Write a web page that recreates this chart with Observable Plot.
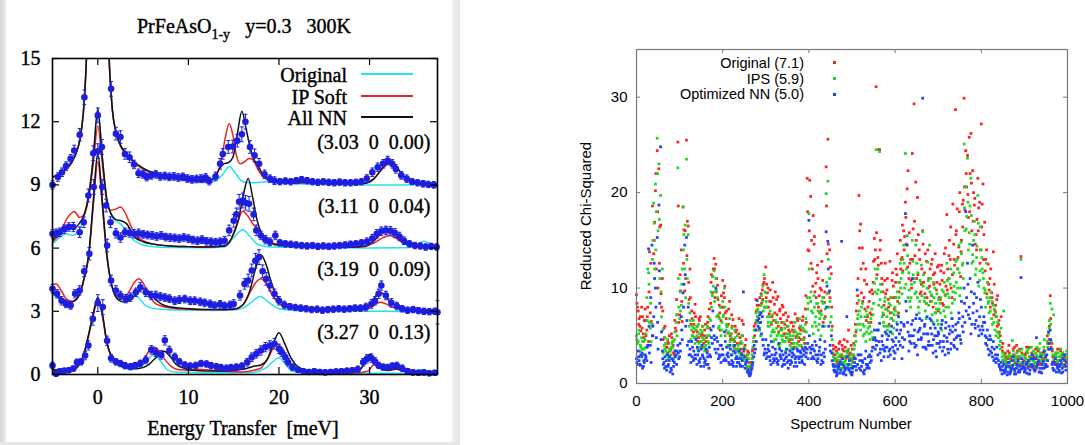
<!DOCTYPE html>
<html><head><meta charset="utf-8">
<script src="https://cdn.jsdelivr.net/npm/d3@7"></script>
<script src="https://cdn.jsdelivr.net/npm/@observablehq/plot@0.6"></script>
<style>
body{margin:0;background:#fff;}
#wrap{position:relative;width:1085px;height:445px;overflow:hidden;background:#fff;}
.abs{position:absolute;white-space:pre;line-height:1;}
.serif{font-family:"Liberation Serif","Times New Roman",serif;font-size:20px;color:#000;-webkit-text-stroke:0.4px #000;}
.sans{font-family:"Liberation Sans",Arial,sans-serif;font-size:15px;color:#000;}
#left svg text{stroke:#000;stroke-width:0.4px;}
.c{transform:translate(-50%,-50%);}
.r{transform:translate(-100%,-50%);}
</style></head><body>
<div id="wrap">
 <div class="abs" style="left:0;top:0;width:6px;height:445px;background:linear-gradient(to right,#d6d6d6,#eeeeee)"></div>
 <div class="abs" style="left:452px;top:0;width:8px;height:445px;background:linear-gradient(to right,#f2f2f2,#e4e4e4)"></div>
 <div class="abs" style="left:0;top:442px;width:460px;height:3px;background:#e6e6e6"></div>
 <div id="left" class="abs" style="left:0;top:0"></div>
 <div id="right" class="abs" style="left:560px;top:0"></div>
 <div class="abs serif" style="left:137px;top:16px">PrFeAsO<span style="font-size:14px;position:relative;top:6px">1-y</span>   y=0.3   300K</div>
 <div class="abs serif c" style="left:243px;top:428px">Energy Transfer  [meV]</div>
 <div class="abs serif r" style="left:347px;top:75px">Original</div>
 <div class="abs serif r" style="left:347px;top:97px">IP Soft</div>
 <div class="abs serif r" style="left:347px;top:118px">All NN</div>
 <div class="abs" style="left:361px;top:73px;width:52px;height:2px;background:#22e3ee"></div>
 <div class="abs" style="left:361px;top:95px;width:52px;height:2px;background:#ee2222"></div>
 <div class="abs" style="left:361px;top:116px;width:52px;height:1.6px;background:#111"></div>
 <div class="abs sans r" style="left:804px;top:63px;font-size:14.5px">Original (7.1)</div>
 <div class="abs sans r" style="left:804px;top:79px;font-size:14.5px">IPS (5.9)</div>
 <div class="abs sans r" style="left:804px;top:94px;font-size:14.5px">Optimized NN (5.0)</div>
 <div class="abs" style="left:833px;top:61px;width:3px;height:3px;background:#ff2020"></div>
 <div class="abs" style="left:833px;top:77px;width:3px;height:3px;background:#20d820"></div>
 <div class="abs" style="left:833px;top:93px;width:3px;height:3px;background:#2040ff"></div>
 <div class="abs sans c" style="left:851px;top:423px">Spectrum Number</div>
 <div class="abs sans" style="left:585px;top:216px;transform:translate(-50%,-50%) rotate(-90deg)">Reduced Chi-Squared</div>
</div>
<script>
// ---------------- LEFT PANEL DATA ----------------
const xTicksL = [0, 10, 20, 30];
const yTicksL = [0, 3, 6, 9, 12, 15];
const specBase = [9, 6, 3, 0];
const specLabels = ["(3.03  0  0.00)", "(3.11  0  0.04)", "(3.19  0  0.09)", "(3.27  0  0.13)"];

// measured points [E, I, err]
const data1 = [[-5,9.0,0.2],[-4.4,9.37,0.2],[-3.95,9.6,0.2],[-3.5,9.89,0.2],[-3.0,10.24,0.2],[-2.6,10.63,0.25],[-2.0,11.38,0.3],[-1.48,13.16,0.35],[1.47,13.56,0.35],[2.0,11.43,0.3],[2.5,11.27,0.3],[3.0,10.47,0.25],[3.5,10.31,0.25],[4.0,9.97,0.2],[4.5,9.55,0.2],[5.0,9.5,0.18],[5.4,9.37,0.18],[5.9,9.45,0.18],[6.4,9.5,0.18],[6.9,9.4,0.18],[7.4,9.42,0.18],[7.9,9.38,0.18],[8.4,9.4,0.18],[8.9,9.35,0.18],[9.4,9.38,0.18],[9.9,9.3,0.18],[10.4,9.26,0.18],[10.9,9.28,0.18],[11.4,9.3,0.18],[11.9,9.35,0.18],[12.3,9.18,0.18],[13.0,9.4,0.2],[13.5,10.0,0.25],[13.8,10.47,0.25],[14.4,10.8,0.3],[14.9,10.82,0.3],[15.4,11.1,0.3],[15.9,11.4,0.35],[16.3,12.0,0.35],[16.8,10.8,0.3],[17.3,10.4,0.3],[17.8,10.0,0.25],[18.4,9.5,0.2],[19,9.29,0.18],[19.5,9.2,0.18],[20.1,9.15,0.15],[20.7,9.18,0.15],[21.3,9.15,0.15],[21.9,9.2,0.15],[22.5,9.25,0.15],[23.1,9.2,0.15],[23.7,9.15,0.15],[24.3,9.12,0.15],[24.9,9.15,0.15],[25.5,9.12,0.15],[26.1,9.1,0.15],[26.7,9.13,0.15],[27.3,9.1,0.15],[27.9,9.1,0.15],[28.5,9.12,0.15],[29.1,9.15,0.15],[29.7,9.3,0.18],[30.3,9.6,0.2],[30.9,9.84,0.2],[31.5,10.0,0.2],[32.0,10.16,0.2],[32.5,10.0,0.2],[32.9,9.76,0.2],[33.5,9.45,0.18],[34.1,9.29,0.18],[34.7,9.15,0.15],[35.3,9.1,0.15],[35.9,9.05,0.15],[36.5,9.02,0.15],[37.1,9.0,0.15]];
const data2 = [[-5,6.68,0.2],[-4.6,6.7,0.2],[-4.2,6.75,0.2],[-3.7,6.9,0.2],[-3.2,7.0,0.2],[-2.7,7.0,0.22],[-2.0,6.75,0.25],[-1.55,7.23,0.25],[-1.04,8.5,0.3],[-0.5,10.5,0.35],[0,12.3,0.35],[0.45,10.8,0.35],[0.92,8.02,0.3],[1.4,7.23,0.25],[2.0,6.7,0.22],[2.5,6.5,0.22],[3.0,6.75,0.2],[3.5,6.72,0.2],[4.0,6.68,0.2],[4.5,6.7,0.2],[5.0,6.65,0.18],[5.5,6.62,0.18],[6.0,6.6,0.18],[6.5,6.55,0.18],[7.0,6.6,0.18],[7.5,6.52,0.18],[8.0,6.5,0.18],[8.5,6.48,0.18],[9.0,6.45,0.18],[9.5,6.5,0.18],[10.0,6.45,0.18],[10.5,6.38,0.18],[11.0,6.35,0.18],[11.5,6.4,0.18],[12.0,6.32,0.18],[12.5,6.3,0.18],[13.0,6.28,0.18],[13.5,6.3,0.18],[14.0,6.35,0.2],[14.5,6.84,0.25],[15.0,7.3,0.3],[15.3,7.6,0.3],[15.6,8.2,0.35],[16.0,8.26,0.35],[16.3,8.15,0.35],[16.7,8.1,0.35],[17.2,7.6,0.3],[17.5,6.84,0.25],[18.0,6.6,0.2],[18.5,6.4,0.2],[19.0,6.3,0.18],[19.6,6.6,0.2],[20.1,6.25,0.15],[20.7,6.2,0.15],[21.3,6.18,0.15],[21.9,6.15,0.15],[22.5,6.12,0.15],[23.1,6.1,0.15],[23.7,6.12,0.15],[24.3,6.08,0.15],[24.9,6.1,0.15],[25.5,6.08,0.15],[26.1,6.1,0.15],[26.7,6.12,0.15],[27.3,6.15,0.15],[27.9,6.18,0.15],[28.5,6.2,0.15],[29.1,6.25,0.15],[29.7,6.3,0.18],[30.3,6.45,0.2],[30.8,6.68,0.2],[31.3,6.8,0.2],[31.8,6.84,0.2],[32.3,6.82,0.2],[32.8,6.72,0.2],[33.3,6.55,0.2],[33.8,6.35,0.18],[34.4,6.2,0.15],[35.0,6.12,0.15],[35.6,6.1,0.15],[36.2,6.05,0.15],[36.8,6.08,0.15],[37.4,6.05,0.15]];
const data3 = [[-5,4.07,0.2],[-4.5,3.83,0.2],[-4.0,3.5,0.2],[-3.5,3.35,0.18],[-3.0,3.28,0.18],[-2.5,3.83,0.2],[-2.0,3.99,0.22],[-1.5,4.9,0.25],[-0.93,5.73,0.3],[-0.45,8.9,0.35],[0,10.6,0.35],[0.5,8.9,0.35],[1.03,6.12,0.3],[1.47,4.46,0.25],[2.0,3.99,0.22],[2.5,3.75,0.2],[3.1,3.6,0.2],[3.6,3.67,0.2],[4.2,3.9,0.2],[4.7,4.14,0.22],[5.3,3.9,0.2],[5.9,3.75,0.2],[6.4,3.75,0.2],[6.9,3.7,0.18],[7.4,3.65,0.18],[7.9,3.6,0.18],[8.5,3.5,0.18],[9.0,3.55,0.18],[9.6,3.58,0.18],[10.2,3.5,0.18],[10.7,3.5,0.18],[11.3,3.45,0.18],[11.8,3.4,0.18],[12.4,3.35,0.18],[12.9,3.27,0.18],[13.5,3.33,0.18],[14.0,3.25,0.18],[14.6,3.3,0.18],[15.0,3.35,0.2],[15.7,3.75,0.22],[16.2,4.3,0.25],[16.6,4.46,0.3],[17.0,4.94,0.3],[17.4,5.4,0.35],[17.8,5.57,0.35],[18.2,4.9,0.3],[18.6,4.54,0.3],[19.0,4.22,0.25],[19.5,3.83,0.22],[20.0,3.5,0.2],[20.6,3.3,0.18],[21.2,3.22,0.15],[21.8,3.18,0.15],[22.4,3.15,0.15],[23.0,3.12,0.15],[23.6,3.08,0.15],[24.2,3.1,0.15],[24.8,3.05,0.15],[25.4,3.08,0.15],[26.0,3.1,0.15],[26.6,3.12,0.15],[27.2,3.1,0.15],[27.8,3.12,0.15],[28.4,3.15,0.15],[29.0,3.15,0.15],[29.6,3.2,0.18],[30.2,3.35,0.2],[30.6,3.5,0.2],[31.0,3.83,0.22],[31.3,4.22,0.22],[31.8,3.75,0.2],[32.4,3.4,0.2],[33.0,3.25,0.18],[33.6,3.12,0.15],[34.2,3.05,0.15],[34.8,3.08,0.15],[35.4,3.03,0.15],[36.0,3.0,0.15],[36.6,2.98,0.15],[37.2,3.0,0.15],[37.5,2.95,0.55]];
const data4 = [[-5,0.43,0.15],[-4.6,0.03,0.12],[-4.2,0.15,0.12],[-3.7,0.18,0.12],[-3.2,0.2,0.12],[-2.7,0.28,0.12],[-2.3,0.58,0.15],[-1.85,0.6,0.15],[-1.4,0.9,0.2],[-1.04,1.38,0.22],[-0.55,2.64,0.3],[0,3.39,0.4],[0.55,3.2,0.35],[1.03,1.6,0.22],[1.47,0.77,0.18],[2.0,0.6,0.15],[2.5,0.52,0.15],[3.0,0.42,0.15],[3.6,0.37,0.15],[4.1,0.42,0.15],[4.7,0.53,0.15],[5.3,0.69,0.18],[5.9,1.17,0.2],[6.4,1.05,0.2],[7.0,0.93,0.2],[7.4,1.62,0.22],[7.9,1.14,0.2],[8.5,0.83,0.18],[9.0,0.6,0.15],[9.6,0.45,0.15],[10.2,0.4,0.15],[10.8,0.43,0.15],[11.4,0.52,0.15],[12.0,0.5,0.15],[12.5,0.42,0.15],[13.1,0.37,0.15],[13.6,0.33,0.15],[14.2,0.3,0.15],[14.7,0.33,0.15],[15.3,0.35,0.15],[15.9,0.4,0.15],[16.5,0.58,0.18],[17.0,0.82,0.2],[17.5,0.98,0.2],[18.0,1.14,0.22],[18.5,1.3,0.22],[19.0,1.38,0.22],[19.5,1.46,0.25],[20.0,1.22,0.22],[20.3,1.06,0.2],[20.7,0.82,0.2],[21.0,0.58,0.18],[21.5,0.35,0.15],[22.1,0.22,0.12],[22.7,0.15,0.12],[23.3,0.12,0.12],[23.9,0.15,0.12],[24.5,0.12,0.12],[25.1,0.1,0.12],[25.7,0.12,0.12],[26.3,0.14,0.12],[26.9,0.15,0.12],[27.5,0.18,0.12],[28.1,0.2,0.12],[28.7,0.25,0.15],[29.3,0.58,0.18],[29.7,0.74,0.2],[30.2,0.78,0.2],[30.6,0.62,0.18],[31.0,0.43,0.15],[31.5,0.35,0.15],[32.0,0.33,0.15],[32.5,0.4,0.15],[33.0,0.43,0.15],[33.6,0.3,0.15],[34.2,0.16,0.12],[34.8,0.1,0.12],[35.4,0.08,0.12],[36.0,0.1,0.12],[36.6,0.06,0.12],[37.2,0.08,0.12]];

// model curves [E, I]
const cyan1 = [[-5,9.35],[-4,9.6],[-3,10.0],[-2.5,10.4],[-2,11.1],[-1.6,12.4],[-1.3,14.5],[-1,18],[-0.5,25],[0,30],[0.5,25],[1,18],[1.3,14.5],[1.6,12.6],[2,11.5],[2.5,10.85],[3,10.5],[4,10.05],[5,9.75],[6,9.55],[8,9.32],[10,9.18],[12,9.1],[13,9.2],[13.8,9.5],[14.5,9.87],[15.2,9.55],[16,9.15],[17,9.1],[18.5,9.15],[19.5,9.2],[20.5,9.12],[22,9.05],[26,9.02],[30,9.0],[34,9.0],[35.3,9.08],[36,9.2],[36.7,9.1],[37.5,9.0]];
const red1 = [[-5,9.35],[-4,9.58],[-3,9.98],[-2.5,10.4],[-2,11.1],[-1.6,12.4],[-1.3,14.5],[-1,18],[-0.5,25],[0,30],[0.5,25],[1,18],[1.3,14.5],[1.6,12.6],[2,11.5],[2.5,10.85],[3,10.5],[4,10.05],[5,9.75],[6,9.55],[8,9.35],[10,9.22],[12,9.15],[13,9.4],[13.6,10.1],[14.1,11.3],[14.5,11.9],[14.9,11.4],[15.3,10.4],[15.7,10.0],[16.2,10.1],[16.7,10.25],[17.1,10.2],[17.6,9.8],[18.2,9.4],[19,9.2],[20,9.12],[24,9.08],[28,9.05],[29.5,9.08],[30.5,9.3],[31.5,9.8],[32.3,10.05],[33,9.8],[33.8,9.4],[34.6,9.15],[35.5,9.08],[36.5,9.1],[37.5,9.02]];
const black1 = [[-5,9.37],[-4,9.6],[-3,10.0],[-2.5,10.4],[-2,11.1],[-1.6,12.4],[-1.3,14.5],[-1.0,18],[-0.5,25],[0,30],[0.5,25],[1.0,18],[1.3,14.5],[1.6,12.6],[2,11.5],[2.5,10.9],[3,10.55],[4,10.1],[5,9.8],[6,9.6],[8,9.38],[10,9.25],[12,9.18],[12.8,9.3],[13.4,9.75],[13.9,10.0],[14.4,10.05],[14.9,10.3],[15.4,11.4],[15.9,12.5],[16.4,11.6],[16.8,10.8],[17.2,10.25],[17.6,9.95],[18.2,9.5],[19,9.25],[20,9.13],[22,9.1],[23,9.15],[24,9.1],[26,9.07],[28,9.05],[29.5,9.08],[30.5,9.3],[31.5,9.85],[32.3,10.15],[33,9.85],[33.8,9.4],[34.6,9.15],[35.5,9.08],[36.5,9.1],[37.5,9.02]];
const cyan2 = [[-5,6.2],[-4.2,6.5],[-3.5,6.68],[-2.8,6.6],[-2,6.9],[-1.5,7.5],[-1,8.5],[-0.5,10.3],[0,12.6],[0.5,10.3],[1,8.3],[1.5,7.55],[2,7.3],[2.5,7.15],[3.2,6.8],[4,6.36],[5,6.15],[6,6.08],[8,6.03],[12,6.02],[14,6.05],[15,6.5],[16,6.87],[16.8,6.55],[17.6,6.2],[18.5,6.08],[20,6.04],[25,6.02],[30,6.01],[34,6.02],[35.3,6.15],[36,6.33],[36.7,6.2],[37.5,6.08]];
const red2 = [[-5,6.28],[-4.2,6.7],[-3.4,7.4],[-2.6,7.74],[-2,7.45],[-1.5,7.6],[-1,8.4],[-0.5,10.0],[0,11.8],[0.5,10.0],[1,8.2],[1.4,7.8],[2,7.85],[2.5,7.95],[3,7.7],[3.6,7.1],[4.2,6.6],[5,6.35],[6,6.2],[8,6.1],[10,6.07],[12,6.05],[14,6.1],[14.8,6.5],[15.4,7.2],[16,7.75],[16.6,7.5],[17.2,7.1],[17.7,6.9],[18.3,6.5],[19,6.25],[20,6.12],[24,6.06],[28,6.04],[29.5,6.08],[30.5,6.25],[31.5,6.5],[32.2,6.6],[33,6.45],[34,6.2],[35,6.1],[36.5,6.06],[37.5,6.02]];
const black2 = [[-5,6.36],[-4.3,6.8],[-3.5,7.0],[-3,7.07],[-2.5,7.0],[-2,7.2],[-1.5,7.6],[-1,8.5],[-0.5,10.3],[0,12.6],[0.5,10.3],[1,8.3],[1.5,7.6],[2,7.35],[2.6,7.3],[3.2,7.15],[4,6.55],[5,6.3],[6,6.2],[8,6.1],[10,6.07],[12,6.05],[14,6.1],[14.8,6.5],[15.5,7.3],[16.1,8.6],[16.6,9.3],[17.1,8.4],[17.6,7.3],[18.2,6.6],[19,6.3],[20,6.15],[24,6.07],[28,6.05],[29.5,6.1],[30.5,6.35],[31.5,6.8],[32,6.9],[32.7,6.7],[33.5,6.35],[34.5,6.12],[36,6.08],[37.5,6.02]];
const cyan3 = [[-5,3.83],[-4.3,3.6],[-3.5,3.43],[-2.8,3.45],[-2,3.8],[-1.5,4.6],[-1,5.7],[-0.5,8.2],[0,10.5],[0.5,8.2],[1,5.7],[1.5,4.3],[2,3.7],[2.6,3.55],[3.3,3.65],[4,3.83],[4.6,3.6],[5.2,3.3],[6,3.15],[7,3.1],[9,3.06],[13,3.04],[15,3.06],[16,3.15],[17,3.45],[17.9,3.7],[18.8,3.45],[19.6,3.2],[20.5,3.08],[22,3.04],[28,3.02],[32,3.0],[35,2.98],[35.8,3.05],[36.4,3.08],[37,3.0],[37.5,2.96]];
const red3 = [[-5,4.28],[-4.6,4.3],[-4,3.95],[-3.4,3.55],[-2.8,3.48],[-2,3.8],[-1.5,4.55],[-1,5.6],[-0.5,8.0],[0,10.1],[0.5,8.0],[1,5.6],[1.5,4.3],[2,3.8],[2.7,3.6],[3.4,3.9],[4,4.35],[4.5,4.54],[5,4.35],[5.6,3.8],[6.2,3.43],[7,3.25],[8,3.16],[10,3.1],[13,3.07],[15,3.1],[16,3.3],[16.8,3.9],[17.5,4.4],[18,4.54],[18.6,4.3],[19.2,3.8],[19.8,3.45],[20.5,3.25],[22,3.12],[26,3.07],[29,3.06],[30,3.15],[30.7,3.35],[31.2,3.43],[31.8,3.35],[32.5,3.2],[33.5,3.1],[35,3.06],[37.5,3.0]];
const black3 = [[-5,3.9],[-4,3.6],[-3,3.43],[-2.4,3.55],[-2,3.83],[-1.5,4.6],[-1,5.7],[-0.5,8.2],[0,10.5],[0.5,8.2],[1,5.7],[1.5,4.3],[2,3.67],[2.5,3.48],[3,3.43],[3.6,3.55],[4.3,3.85],[5,4.07],[5.6,3.95],[6.3,3.6],[7,3.35],[8,3.2],[9,3.16],[11,3.1],[13,3.08],[15,3.1],[16,3.3],[16.8,4.0],[17.4,5.0],[18,5.68],[18.6,5.2],[19.2,4.3],[19.8,3.7],[20.5,3.35],[21.5,3.18],[24,3.1],[28,3.07],[29.5,3.12],[30.3,3.45],[30.8,3.8],[31.2,3.9],[31.7,3.75],[32.3,3.45],[33,3.25],[34,3.12],[35,3.08],[36.5,3.04],[37.5,3.0]];
const cyan4 = [[-5,0.15],[-3,0.15],[-2.2,0.35],[-1.6,0.85],[-1,1.9],[-0.5,2.85],[0,3.6],[0.5,2.85],[1,1.5],[1.5,0.85],[2.5,0.4],[3.5,0.25],[4.5,0.3],[5.3,0.6],[6.2,0.95],[7,0.6],[7.7,0.22],[8.5,0.12],[10,0.1],[14,0.08],[17,0.1],[18.5,0.3],[19.3,0.6],[20,0.79],[20.7,0.5],[21.5,0.15],[23,0.08],[30,0.06],[34,0.06],[35,0.15],[35.6,0.22],[36.3,0.15],[37.5,0.08]];
const red4 = [[-5,0.2],[-3,0.2],[-2.2,0.38],[-1.6,0.85],[-1,1.85],[-0.5,2.8],[0,3.55],[0.5,2.8],[1,1.5],[1.5,0.85],[2.5,0.45],[3.5,0.3],[4.5,0.4],[5.2,0.8],[5.8,1.2],[6.2,1.3],[6.8,1.1],[7.5,0.66],[8.2,0.35],[9,0.22],[10,0.2],[11,0.25],[12,0.22],[14,0.15],[16,0.12],[17,0.18],[18,0.3],[18.8,0.8],[19.8,1.46],[20.5,1.1],[21.2,0.5],[22,0.2],[24,0.08],[28,0.06],[29.8,0.15],[30.4,0.45],[30.8,0.54],[31.4,0.35],[32.2,0.2],[33,0.25],[33.8,0.18],[35,0.08],[37.5,0.04]];
const black4 = [[-5,0.22],[-3,0.2],[-2.2,0.4],[-1.6,0.9],[-1,1.93],[-0.5,2.9],[0,3.67],[0.5,2.9],[1,1.55],[1.5,0.9],[2.5,0.5],[3.5,0.3],[4.5,0.28],[5.5,0.43],[6.3,0.75],[7.3,1.1],[8,0.85],[8.6,0.5],[9.5,0.3],[10.5,0.2],[12,0.17],[14,0.17],[15.5,0.22],[16.5,0.3],[17.3,0.4],[18,0.45],[18.7,0.7],[19.4,1.5],[20,1.98],[20.6,1.5],[21.2,0.9],[22,0.4],[23,0.2],[25,0.12],[28,0.12],[29,0.25],[29.6,0.7],[30,0.95],[30.5,0.75],[31.2,0.3],[32,0.2],[32.8,0.28],[33.5,0.2],[34.5,0.1],[36,0.06],[37.5,0.05]];

// ---------------- RIGHT PANEL DATA ----------------
const specStep = 4;    // spectrum-number step between listed values
const specOffsetB = 2; // second pass starts at spectrum 2
const specOffsetC = 1; // third pass starts at spectrum 1
const xTicksR = [0, 200, 400, 600, 800, 1000];
const yTicksR = [0, 10, 20, 30];
const chiOriginal = [
9.3,7.6,6.0,8.0,5.2,7.8,5.6,4.4,7.4,6.2,13.6,20.2,24.4,22.5,16.6,11.0,5.8,4.2,3.2,5.0,3.6,4.4,3.0,5.5,25.3,
7.2,14.0,18.5,9.7,25.5,16.5,12.0,7.6,5.4,8.3,6.0,4.8,7.0,5.2,4.2,6.2,3.4,5.0,8.4,9.5,13.1,12.5,10.3,8.2,6.6,
10.8,9.0,6.8,5.3,8.6,5.2,6.7,4.4,5.6,3.6,4.8,3.2,6.2,4.0,2.6,3.2,1.8,2.6,4.4,6.3,8.2,5.6,7.4,9.8,10.6,
12.2,9.5,7.3,8.6,10.6,8.3,6.4,9.1,7.6,5.8,8.0,6.2,4.8,7.0,5.4,4.2,6.0,7.3,5.0,4.4,6.0,3.8,5.5,7.8,21.5,
13.9,19.6,12.0,14.6,10.5,12.4,9.2,7.6,10.8,8.5,22.7,25.6,14.0,11.5,4.0,2.6,3.4,2.0,4.4,3.0,2.2,3.8,2.8,5.6,3.2,
2.4,4.2,6.2,8.4,19.7,16.7,14.2,9.0,12.0,7.0,8.6,6.4,9.4,15.2,31.1,13.2,24.5,12.6,9.6,10.8,7.8,8.8,12.8,6.8,10.2,
9.0,11.4,7.4,15.0,13.2,16.0,19.0,20.4,11.0,13.0,24.1,29.3,21.1,19.5,14.0,9.6,16.0,11.6,8.4,14.0,10.2,12.5,8.0,11.6,9.8,
7.6,10.4,12.4,8.2,9.3,17.7,11.0,13.0,9.0,14.6,28.7,18.3,14.3,11.2,18.8,29.9,24.4,23.9,25.8,26.2,22.3,18.7,15.6,21.5,19.0,
27.2,20.9,16.9,14.0,12.5,11.0,9.5,13.8,7.6,8.8,6.2,5.0,3.8,2.4,3.2,2.0,4.0,2.6,1.8,3.0,2.2,3.4,2.8,13.3,1.6,
2.4,3.2,1.8,2.8,2.0,3.0,2.2,1.6,3.4,2.4,2.0,3.2,2.6,1.8,3.6,9.2,4.2,2.4,3.0,2.2,1.8,3.4,2.6,2.0,3.0];
const chiOriginalB = [
8.0,6.8,5.5,7.0,6.6,5.0,8.0,13.8,6.5,5.0,16.9,12.0,10.0,16.4,8.0,4.6,6.0,3.8,4.2,3.4,4.8,3.2,5.8,7.2,6.4,
9.7,6.5,16.1,11.0,17.0,8.8,6.2,5.0,7.4,5.6,4.4,6.6,5.0,3.8,5.6,4.8,7.0,5.8,11.4,12.0,9.0,11.0,7.0,5.6,8.0,
9.5,7.4,6.0,7.8,4.6,6.0,3.8,5.4,4.2,6.8,3.6,5.0,2.8,4.6,3.4,1.6,2.2,3.6,5.0,7.6,6.4,9.0,8.4,10.4,8.0,
10.4,8.0,9.8,7.0,6.6,9.6,7.2,5.4,6.8,8.2,5.2,7.4,6.0,4.4,6.4,5.6,3.8,4.8,6.6,5.8,4.6,7.0,4.2,6.4,14.0,
21.3,15.0,17.6,9.6,11.6,8.0,10.0,12.8,9.0,7.0,13.6,9.5,12.2,6.0,3.0,3.8,2.4,4.2,2.8,3.6,4.6,2.6,3.4,2.0,4.0,
3.0,5.0,7.6,11.0,16.0,9.5,12.6,7.8,10.4,6.4,7.4,9.8,12.8,14.0,11.4,24.5,15.0,10.4,8.2,9.4,11.0,6.2,9.0,11.6,7.8,
12.0,8.6,10.6,13.0,11.8,15.4,14.6,22.3,12.6,10.0,16.2,13.4,11.0,15.6,9.4,12.0,10.6,13.6,9.0,11.0,8.6,13.0,10.4,7.4,12.2,
9.0,11.8,8.4,13.6,10.2,12.0,15.0,10.0,18.8,12.4,16.0,13.2,20.0,15.0,19.2,18.2,20.6,17.4,22.0,16.0,20.0,14.6,17.2,18.4,14.0,
18.8,15.6,13.0,10.6,9.8,12.0,8.4,10.4,7.0,9.2,5.4,7.0,4.2,3.0,2.6,3.4,1.8,2.8,3.6,2.2,4.0,2.6,1.9,3.2,2.4,
3.0,2.0,3.8,2.6,1.7,2.8,3.6,2.2,2.0,3.0,2.6,3.4,1.8,4.2,6.0,3.8,2.8,2.0,3.2,2.4,3.6,2.2,1.8,2.8,2.4];
const chiOriginalC = [
8.4,6.2,7.0,5.8,4.8,6.6,7.0,9.6,12.6,18.6,15.0,22.0,18.0,12.6,9.4,7.6,4.8,3.8,4.4,3.6,5.2,4.0,6.6,8.8,18.6,
11.4,8.6,12.6,16.0,13.4,10.6,9.0,6.8,6.2,7.0,5.4,6.8,4.4,6.0,5.0,4.4,6.4,7.8,10.6,11.2,12.0,9.6,8.8,7.4,9.2,
8.0,10.2,7.6,6.2,5.0,7.2,4.6,6.0,3.6,5.2,4.2,6.6,3.4,2.8,3.0,2.2,1.4,3.4,6.0,8.8,7.0,8.2,9.4,8.8,11.0,
9.0,10.0,8.6,6.2,9.0,7.4,8.8,6.0,7.8,6.4,7.2,5.2,6.6,5.6,4.6,6.4,5.4,3.8,6.8,4.8,5.6,6.6,4.8,9.2,18.0,
16.0,12.6,10.2,15.4,9.0,11.0,7.4,9.8,6.4,9.6,18.6,14.6,9.0,8.0,3.6,3.0,2.2,3.6,2.4,4.0,3.4,2.8,4.4,3.0,2.6,
3.6,2.8,5.4,9.2,14.2,12.0,8.6,10.8,6.6,8.0,9.6,7.2,10.6,13.0,15.8,12.4,14.0,11.0,7.2,12.6,9.8,8.0,7.4,10.8,9.0,
10.6,13.6,9.6,12.0,16.6,14.0,17.4,12.2,15.8,10.8,13.0,17.0,15.0,11.4,13.0,10.4,14.6,9.4,12.8,10.0,12.0,9.2,11.4,13.6,10.6,
12.4,8.8,10.8,11.6,14.2,9.8,13.4,16.4,11.4,13.0,15.6,12.0,18.0,13.8,16.4,20.6,22.0,19.8,18.0,21.0,17.0,19.4,14.0,16.0,12.6,
16.4,13.0,11.8,9.4,10.4,8.0,9.0,7.2,8.2,6.0,6.6,4.4,3.4,2.2,2.8,2.6,3.2,1.7,2.4,3.8,2.8,2.2,3.6,2.0,3.0,
2.2,3.8,2.4,1.9,3.2,2.4,1.8,2.8,3.6,2.2,3.2,2.4,2.0,5.0,4.6,6.8,3.4,2.8,2.2,3.6,2.4,2.8,3.2,1.8,2.2];
const chiIPS = [
5.0,4.4,3.4,4.8,3.0,4.6,9.0,11.6,5.8,6.2,18.9,20.9,25.7,23.0,19.7,12.0,4.0,3.4,4.6,2.8,3.0,3.8,4.6,6.4,22.6,
6.8,8.2,18.5,12.0,23.5,15.6,7.4,5.6,6.6,4.2,5.0,6.2,3.8,5.4,4.6,3.6,5.8,4.2,6.6,9.2,11.8,11.0,9.0,6.0,5.0,
8.6,10.0,5.6,4.0,6.8,4.8,3.4,5.6,2.8,4.0,3.2,5.0,2.4,3.6,1.8,2.6,1.4,3.0,4.8,5.6,6.4,7.5,5.0,8.6,11.4,
9.5,7.0,6.0,5.0,7.2,5.4,4.6,6.4,3.8,5.0,4.4,5.8,3.6,6.0,4.0,3.2,5.0,6.4,4.2,3.4,5.2,2.8,4.6,6.2,9.0,
17.8,8.6,6.0,9.2,7.0,8.4,6.2,5.0,9.0,6.8,19.9,21.2,11.0,7.0,3.2,1.8,2.6,1.4,3.0,2.2,1.6,2.8,2.0,3.6,2.4,
1.8,3.0,5.0,6.2,8.7,5.6,8.4,6.0,4.4,7.2,5.2,6.8,4.8,10.5,24.5,12.0,24.3,9.6,7.4,8.6,6.0,7.6,5.4,9.0,6.6,
8.0,6.4,10.6,12.6,9.4,14.5,24.1,15.5,11.6,8.0,15.0,11.0,14.5,9.0,7.4,10.6,15.9,8.6,6.8,12.7,14.5,9.3,6.4,10.0,7.8,
6.2,8.4,5.6,9.6,7.0,12.6,8.0,10.4,6.8,11.6,9.5,13.0,14.5,10.0,12.4,25.1,20.6,23.6,15.8,21.5,13.5,17.0,12.0,19.7,10.8,
14.0,11.6,9.5,12.6,8.4,9.0,6.8,8.2,5.6,7.0,4.8,3.6,2.8,7.6,2.2,1.8,3.0,2.4,4.5,2.0,2.6,1.6,2.2,13.0,3.0,
1.8,2.6,3.2,2.0,3.8,2.4,1.6,3.0,2.2,4.2,2.8,2.0,3.4,2.4,5.2,8.4,7.8,7.2,3.0,2.4,2.0,3.6,2.8,1.8,2.6];
const chiIPSB = [
4.2,5.6,3.8,4.4,3.6,5.2,12.0,6.4,4.4,15.0,12.0,18.0,16.0,11.0,7.0,3.2,4.8,3.0,2.6,3.6,4.2,2.6,3.4,5.0,8.0,
7.6,12.0,15.6,9.0,11.0,6.0,4.6,6.0,4.8,5.6,3.6,5.2,4.4,6.0,3.4,5.0,4.4,6.8,8.0,10.2,9.6,7.0,5.8,8.0,6.4,
7.2,5.0,6.0,3.8,5.2,3.0,4.4,3.6,5.0,3.2,4.4,2.6,3.8,2.2,3.0,1.2,2.0,3.8,4.4,6.6,7.0,5.6,9.2,7.6,9.6,
8.0,6.4,7.6,5.4,4.4,6.6,5.0,4.0,5.6,4.6,6.4,3.4,4.8,5.2,3.6,4.6,5.6,3.8,5.2,6.8,4.0,5.8,3.6,5.4,8.4,
9.0,7.6,5.2,6.4,8.4,5.6,7.4,8.6,6.0,7.8,9.4,8.0,6.4,4.6,2.4,2.0,3.2,2.4,1.6,2.8,2.2,3.4,1.8,2.6,3.0,
2.6,4.0,5.6,7.2,6.2,8.0,5.0,7.0,5.4,6.4,4.6,7.8,8.4,12.0,9.4,8.2,10.4,7.0,6.0,7.8,5.6,8.4,6.8,5.2,7.2,
9.0,7.2,8.4,11.0,13.0,10.0,12.0,9.0,8.6,10.4,11.4,9.4,12.6,8.0,10.8,9.2,11.4,7.6,10.0,8.2,11.0,7.2,9.0,8.4,6.6,
7.8,9.0,6.6,10.6,8.0,9.4,11.0,7.4,9.6,8.8,10.6,12.0,9.2,13.6,11.0,16.0,17.5,14.0,18.6,12.6,15.0,11.4,14.4,10.2,16.4,
12.0,10.0,8.0,10.6,7.4,9.6,6.2,7.8,5.0,6.4,4.0,5.8,3.2,2.6,2.0,2.8,1.6,2.4,3.4,2.6,3.2,2.0,2.8,3.6,2.2,
2.6,3.4,2.2,2.8,3.0,2.0,3.2,2.6,3.6,2.4,3.0,4.6,2.6,3.8,6.6,4.4,3.0,2.2,2.8,3.2,2.4,3.0,2.0,2.6,3.4];
const chiIPSC = [
4.6,5.2,4.0,3.6,4.4,3.8,6.6,10.4,8.4,13.0,16.8,14.0,22.0,17.2,9.6,5.6,3.6,4.2,3.0,3.4,3.8,4.4,5.4,7.2,11.0,
9.6,10.4,14.0,16.6,13.0,8.4,6.6,5.0,5.8,4.8,6.0,4.2,5.6,4.8,3.8,4.0,6.0,5.0,9.6,11.2,8.6,9.8,7.2,6.8,5.6,
7.0,8.0,6.2,5.4,4.4,5.8,4.0,4.8,3.4,3.6,2.8,4.2,3.0,2.6,1.6,1.8,1.1,2.6,5.6,7.4,7.8,6.4,8.2,10.2,8.0,
8.6,6.0,7.0,6.4,5.6,4.6,5.8,5.2,4.2,5.6,5.0,4.4,5.2,4.6,5.0,3.8,4.2,5.4,4.8,4.0,6.0,4.6,5.6,6.8,7.8,
12.0,9.6,7.4,8.0,6.0,7.6,6.8,7.2,8.4,6.0,10.6,13.0,8.6,5.6,2.8,2.4,1.9,2.8,2.0,2.6,1.9,2.4,3.2,2.8,2.0,
2.2,3.6,4.4,6.8,7.6,7.0,6.2,5.2,7.6,5.8,6.0,5.4,7.2,9.6,11.0,9.8,8.8,8.0,6.4,9.0,7.0,6.0,8.2,7.4,5.8,
7.6,9.6,9.0,10.0,11.6,12.6,10.4,13.4,9.8,9.0,12.8,10.6,9.6,11.6,8.6,12.4,10.2,9.0,8.4,10.8,9.6,8.6,10.6,7.4,9.4,
8.8,7.4,9.8,7.6,9.2,10.8,9.0,12.0,8.4,10.2,12.8,10.0,11.6,14.8,12.6,18.4,16.2,19.0,14.6,17.6,12.8,15.6,13.2,16.8,11.8,
13.2,11.0,9.8,9.0,8.6,7.6,8.6,6.4,7.4,5.4,5.2,4.4,2.4,3.0,2.4,2.2,2.8,1.9,3.0,2.4,2.8,2.2,3.4,2.6,2.0,
2.8,2.2,3.6,2.4,2.6,3.4,2.2,3.8,2.8,3.2,2.4,3.8,3.0,4.4,5.8,6.2,3.6,2.6,3.2,2.2,2.8,2.4,3.2,2.6,3.0];
const chiNN = [
2.6,3.4,2.0,2.8,1.8,3.0,2.4,14.1,4.0,14.5,7.0,10.0,15.3,18.7,24.8,3.4,2.2,1.8,3.0,2.4,1.6,1.0,2.2,3.0,4.0,
2.8,7.0,9.5,14.5,15.3,8.0,3.6,4.4,2.4,3.0,2.0,3.4,2.6,4.0,1.8,2.4,3.2,1.6,2.8,4.2,5.0,10.0,4.4,3.0,2.2,
3.6,5.4,2.4,3.2,2.0,3.0,2.2,4.0,1.8,2.6,2.0,3.0,9.6,1.6,2.4,1.2,0.9,1.6,2.8,3.6,8.7,6.8,6.4,7.0,3.0,
4.6,2.8,3.4,2.0,3.8,2.4,3.2,2.0,3.6,2.6,3.0,2.0,2.8,1.6,3.4,2.2,3.6,2.6,1.8,2.8,3.4,2.4,3.0,3.8,3.6,
17.1,3.2,4.0,2.6,3.0,2.2,3.4,2.0,6.0,2.8,15.9,14.9,9.7,5.0,2.0,1.2,0.8,1.6,2.2,14.9,1.0,1.4,7.0,2.0,1.2,
0.9,1.8,2.6,9.8,3.0,1.4,2.4,1.0,3.4,2.0,1.6,2.8,3.8,5.6,4.5,3.0,6.3,2.4,4.0,3.4,5.2,2.8,3.6,6.0,4.4,
3.2,5.6,7.0,4.0,2.6,6.2,17.8,14.5,3.4,5.0,11.0,4.2,6.8,3.0,5.6,4.6,29.9,6.0,3.6,5.2,4.0,6.6,3.2,5.0,2.8,
5.4,3.8,6.2,4.4,3.0,4.8,3.2,5.6,6.8,4.0,5.6,3.6,7.4,4.6,6.0,10.0,18.0,12.6,8.0,5.2,14.5,9.4,6.6,10.6,7.0,
8.0,5.6,6.4,4.8,3.6,5.0,3.2,4.4,2.6,3.8,2.4,1.6,1.0,2.0,1.4,0.9,1.8,1.2,2.4,1.5,1.0,1.9,1.4,11.1,2.2,
1.2,2.0,1.6,1.0,2.6,1.8,1.3,4.8,2.2,1.6,1.1,2.3,1.7,3.0,5.4,5.6,2.0,1.4,2.6,1.8,1.2,2.4,1.6,3.0,1.4];
const chiNNB = [
2.0,2.4,3.0,1.6,2.2,2.8,4.0,3.2,2.2,6.0,11.0,4.8,3.6,8.4,5.4,2.0,2.8,1.4,2.0,1.2,2.6,1.8,2.8,3.4,2.6,
3.4,4.6,10.4,6.0,4.0,3.0,2.2,3.8,2.6,4.6,3.0,2.2,3.6,2.8,2.2,3.6,2.0,3.0,4.8,6.0,3.6,4.8,2.6,4.0,3.0,
2.4,4.4,3.0,2.2,3.6,2.0,3.4,2.6,2.2,3.4,2.6,1.8,2.8,2.2,1.4,0.8,1.4,2.2,3.2,4.4,6.0,7.2,5.2,4.0,3.6,
3.2,4.0,2.4,3.0,2.6,3.6,2.2,4.2,2.8,1.8,2.4,3.2,2.2,3.0,2.4,3.2,1.8,2.8,3.4,2.2,2.8,3.6,2.0,3.2,2.6,
3.8,2.6,3.6,4.4,2.4,3.0,4.6,2.4,3.2,3.6,10.2,6.0,3.4,2.4,1.4,1.8,1.0,2.0,1.4,2.6,1.8,0.9,1.6,2.4,1.0,
1.6,2.2,1.4,3.0,2.4,1.8,1.2,2.6,1.6,2.8,2.2,3.4,4.6,3.6,5.6,4.4,3.6,5.0,2.8,3.8,4.6,3.4,5.4,3.8,2.6,
4.8,3.6,5.2,6.4,3.8,4.6,7.6,5.4,4.4,6.2,5.0,3.8,7.2,4.6,5.8,6.6,5.2,3.8,7.0,4.4,5.8,4.0,6.2,3.4,5.0,
4.2,5.8,3.4,5.0,6.4,3.6,5.2,4.2,6.0,3.8,4.8,6.4,5.0,8.6,5.4,6.4,9.0,7.2,11.0,6.2,8.4,5.8,7.6,5.0,8.8,
6.0,7.0,4.2,5.6,3.0,4.6,2.8,3.6,2.2,3.0,1.8,2.2,1.4,1.2,1.8,2.2,1.0,1.6,2.8,1.3,2.0,1.2,1.8,2.6,1.6,
1.4,2.2,1.0,1.8,3.0,1.5,2.6,2.0,1.2,2.8,1.6,3.4,2.0,2.4,4.2,3.6,1.6,2.2,1.2,2.0,1.8,1.1,2.6,1.9,2.2];
const chiNNC = [
2.2,2.8,1.9,3.2,2.4,2.6,3.8,6.0,9.0,5.0,12.6,8.0,6.4,11.8,4.6,2.6,1.6,2.4,1.8,2.8,1.4,2.4,3.4,2.0,3.2,
4.2,5.6,8.0,11.4,6.6,4.4,3.0,2.8,3.4,2.6,3.8,2.4,1.8,3.0,2.6,2.0,2.8,3.8,5.6,7.6,4.6,3.2,3.6,2.8,4.0,
3.0,2.6,3.8,2.8,4.0,2.4,1.8,3.2,2.8,2.2,1.8,2.4,3.6,2.0,1.2,1.0,1.1,1.9,4.0,5.6,6.6,5.8,7.4,4.6,3.2,
2.6,3.6,2.8,4.4,2.2,3.0,2.6,2.4,3.0,3.4,2.0,2.6,3.6,2.4,2.0,2.8,3.0,2.2,3.6,2.6,3.2,2.2,3.4,2.8,4.2,
5.0,3.6,2.8,3.4,4.0,2.6,3.8,3.0,2.2,4.4,8.0,12.0,4.0,3.2,1.8,1.4,1.2,1.8,1.1,2.0,1.2,1.6,2.8,1.4,1.6,
1.2,2.6,1.8,2.0,1.6,3.0,2.2,1.4,2.0,1.8,3.0,2.4,3.8,4.8,4.0,5.6,3.2,4.4,3.6,5.4,3.8,5.0,3.0,4.6,3.4,
4.0,6.2,4.4,5.6,4.8,6.0,8.6,6.4,5.0,4.2,6.6,5.6,4.0,5.4,6.8,4.8,3.8,6.2,5.2,4.0,6.8,5.2,4.6,5.8,4.2,
5.2,4.4,6.6,3.8,5.8,4.4,6.0,3.6,5.4,4.6,6.2,5.0,6.8,4.2,7.0,8.4,7.6,10.4,6.8,9.6,7.4,6.2,9.0,6.0,5.6,
5.2,6.4,5.0,4.0,4.6,3.4,3.8,2.4,3.0,2.6,2.0,1.4,1.8,1.1,1.6,1.2,2.2,1.4,1.9,1.0,1.6,2.4,1.2,1.5,1.8,
1.6,1.1,2.4,1.4,2.0,2.6,1.4,1.8,2.4,1.2,2.0,1.6,2.8,1.8,3.6,4.6,2.2,1.4,2.0,1.6,1.4,2.0,1.2,2.4,1.8];

// ---------------- BUILD LEFT ----------------
const CYAN = "#22e3ee", RED = "#ee2222", BLACK = "#111111", PBLUE = "#1e1ee0";
const ptsArr = [data1, data2, data3, data4];
const points = [];
ptsArr.forEach((arr, s) => arr.forEach(([E, I, err]) => points.push({s, E, I, err})));
function toRows(list) {
  const rows = [];
  list.forEach((arr, s) => arr.forEach(([E, I]) => rows.push({s, E, I})));
  return rows;
}
const cyanRows = toRows([cyan1, cyan2, cyan3, cyan4]);
const redRows = toRows([red1, red2, red3, red4]);
const blackRows = toRows([black1, black2, black3, black4]);
const annot = specBase.map((b, i) => ({base: b, label: specLabels[i].replace(/ /g, "\u00a0")}));

const LW = 460, LH = 445, LML = 52, LMR = 23, LMT = 58, LMB = 71;
const LFW = LW - LML - LMR, LFH = LH - LMT - LMB, LTK = 7;
const cap = {draw(ctx, size) { const w = Math.sqrt(size); ctx.moveTo(-w / 2, 0); ctx.lineTo(w / 2, 0); }};

const left = Plot.plot({
  width: LW, height: LH,
  marginLeft: LML, marginRight: LMR, marginTop: LMT, marginBottom: LMB,
  x: {domain: [-5, 37.5], ticks: xTicksL, tickSize: 0, tickPadding: 15, label: null},
  y: {domain: [0, 15], ticks: yTicksL, tickSize: 0, tickPadding: 12, label: null},
  style: {fontFamily: "Liberation Serif, serif", fontSize: "20px", background: "transparent", color: "#000"},
  marks: [
    Plot.line(cyanRows, {x: "E", y: "I", z: "s", stroke: CYAN, strokeWidth: 1.5, curve: "monotone-x", clip: true}),
    Plot.line(redRows, {x: "E", y: "I", z: "s", stroke: RED, strokeWidth: 1.5, curve: "monotone-x", clip: true}),
    Plot.line(blackRows, {x: "E", y: "I", z: "s", stroke: BLACK, strokeWidth: 1.5, curve: "monotone-x", clip: true}),
    Plot.ruleX(points, {x: "E", y1: d => d.I - d.err, y2: d => d.I + d.err, stroke: PBLUE, strokeWidth: 1}),
    Plot.dot(points, {x: "E", y: d => d.I + d.err, symbol: cap, r: 2.2, stroke: PBLUE, fill: "none", strokeWidth: 1}),
    Plot.dot(points, {x: "E", y: d => d.I - d.err, symbol: cap, r: 2.2, stroke: PBLUE, fill: "none", strokeWidth: 1}),
    Plot.dot(points, {x: "E", y: "I", r: 3.3, fill: PBLUE, stroke: "none"}),
    Plot.text(annot, {y: "base", text: "label", frameAnchor: "right", textAnchor: "end", dx: -7, dy: -42, fontSize: 20}),
    Plot.tickY(yTicksL, {y: d => d, insetRight: LFW - LTK, strokeWidth: 1.2}),
    Plot.tickY(yTicksL, {y: d => d, insetLeft: LFW - LTK, strokeWidth: 1.2}),
    Plot.tickX(xTicksL, {x: d => d, insetTop: LFH - LTK, strokeWidth: 1.2}),
    Plot.tickX(xTicksL, {x: d => d, insetBottom: LFH - LTK, strokeWidth: 1.2}),
    Plot.frame({stroke: "#000", strokeWidth: 1.6})
  ]
});
document.getElementById("left").appendChild(left);

// ---------------- BUILD RIGHT ----------------
const toScatter = (arr, off) => arr.map((v, i) => ({n: i * specStep + off, v}));
const passes = (a, b, c) => toScatter(a, 0).concat(toScatter(b, specOffsetB), toScatter(c, specOffsetC));
const RW = 525, RH = 445, RML = 76, RMR = 18, RMT = 49, RMB = 62;
const RFW = RW - RML - RMR, RFH = RH - RMT - RMB, RTK = 4;
const dotOpts = {x: "n", y: "v", r: 1.55, symbol: "square"};
const right = Plot.plot({
  width: RW, height: RH,
  marginLeft: RML, marginRight: RMR, marginTop: RMT, marginBottom: RMB,
  x: {domain: [0, 1000], ticks: xTicksR, tickSize: 0, tickPadding: 12, tickFormat: d => String(d), label: null},
  y: {domain: [0, 35], ticks: yTicksR, tickSize: 0, tickPadding: 9, label: null},
  style: {fontFamily: "Liberation Sans, Arial, sans-serif", fontSize: "15px", background: "transparent", color: "#000"},
  marks: [
    Plot.dot(passes(chiOriginal, chiOriginalB, chiOriginalC), {...dotOpts, fill: "#ff2020"}),
    Plot.dot(passes(chiIPS, chiIPSB, chiIPSC), {...dotOpts, fill: "#20d820"}),
    Plot.dot(passes(chiNN, chiNNB, chiNNC), {...dotOpts, fill: "#2040ff"}),
    Plot.tickY(yTicksR, {y: d => d, insetRight: RFW - RTK, stroke: "#777"}),
    Plot.tickY(yTicksR, {y: d => d, insetLeft: RFW - RTK, stroke: "#777"}),
    Plot.tickX(xTicksR, {x: d => d, insetTop: RFH - RTK, stroke: "#777"}),
    Plot.tickX(xTicksR, {x: d => d, insetBottom: RFH - RTK, stroke: "#777"}),
    Plot.frame({stroke: "#777", strokeWidth: 1.2})
  ]
});
document.getElementById("right").appendChild(right);
</script>
</body></html>
